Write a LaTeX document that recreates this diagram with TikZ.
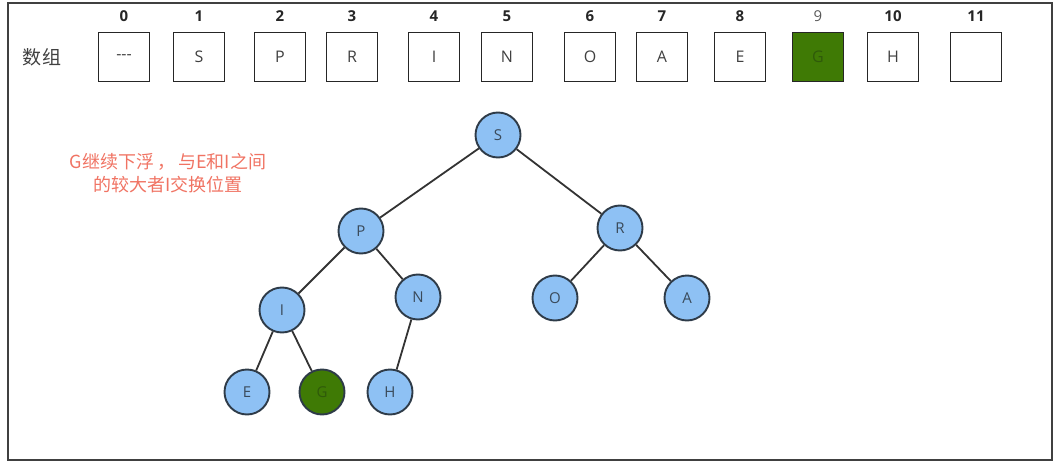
\documentclass[tikz,border=0pt]{standalone}
\usepackage{fontspec}
\setmainfont{Open Sans}
\newfontfamily\cjk{Noto Sans CJK SC}
\definecolor{nodeblue}{HTML}{8EC1F4}
\definecolor{nodeedge}{HTML}{2E3B48}
\definecolor{gfill}{HTML}{3F7A05}
\definecolor{gtext}{HTML}{2F5A0A}
\definecolor{lbl}{HTML}{3A4A5A}
\definecolor{note}{HTML}{F07363}
\begin{document}
\begin{tikzpicture}[x=1pt,y=-1pt,
  cell/.style={draw=black!85,line width=1.7pt,minimum width=51pt,minimum height=49pt,inner sep=0pt,font=\fontsize{16}{16}\selectfont,text=black!75},
  idx/.style={font=\fontsize{15}{15}\selectfont\bfseries,text=black!85},
  hn/.style={circle,draw=nodeedge,line width=1.9pt,fill=nodeblue,minimum size=45pt,inner sep=0pt,font=\fontsize{15}{15}\selectfont,text=lbl},
  gn/.style={hn,fill=gfill,text=gtext},
  edge/.style={draw=black!80,line width=1.8pt}]
\useasboundingbox (0,0) rectangle (1062,468);
\draw[line width=1.8pt,draw=black!75] (8,3) rectangle (1052,460);
\node[font=\cjk\fontsize{19}{19}\selectfont,text=black!75] (lab) at (42,57) {数组};
\foreach \i/\x/\t in {0/124/{-{}-{}-},1/199/S,2/280/P,3/352/R,4/434/I,5/507/N,6/590/O,7/662/A,8/740/E,10/893/H,11/976/{}} {
  \node[cell] (c\i) at (\x,57) {\t};
  \node[idx] (i\i) at (\x,16) {\i};
}
\node[cell,fill=gfill,text=gtext] (c9) at (818,57) {G};
\node[idx,font=\fontsize{15}{15}\selectfont,text=black!65] (i9) at (818,16) {9};
\node[font=\cjk\fontsize{18}{18}\selectfont,text=note,align=center] (txt) at (168,173) {G继续下浮\,，\,与E和I之间\\[5pt]的较大者I交换位置};
\node[hn] (S) at (498,135) {S};
\node[hn] (P) at (361,231) {P};
\node[hn] (R) at (620,228) {R};
\node[hn] (I) at (282,310) {I};
\node[hn] (N) at (418,297) {N};
\node[hn] (O) at (555,298) {O};
\node[hn] (A) at (687,298) {A};
\node[hn] (E) at (247,392) {E};
\node[gn] (G) at (322,392) {G};
\node[hn] (H) at (390,392) {H};
\foreach \a/\b in {S/P,S/R,P/I,P/N,R/O,R/A,I/E,I/G,N/H}
  \draw[edge] (\a) -- (\b);
\end{tikzpicture}
\end{document}
